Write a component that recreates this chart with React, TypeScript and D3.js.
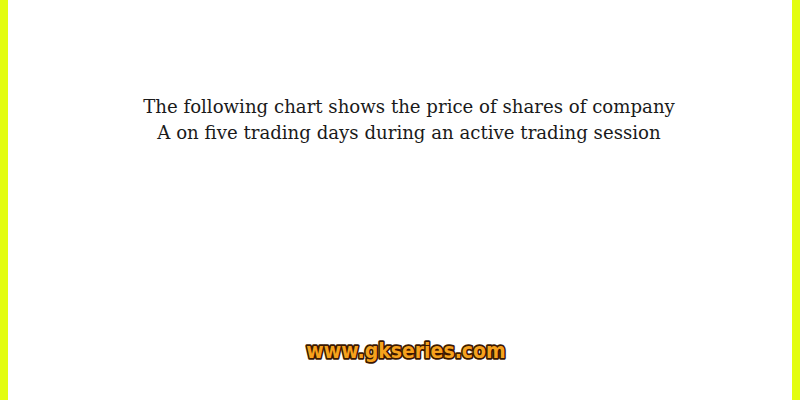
import React from 'react';
import * as d3 from 'd3';

// 제목 줄
const titleLines = [
  'The following chart shows the price of shares of company',
  'A on five trading days during an active trading session',
];
const siteLabel = ['www.gkseries.com'];

const WIDTH = 800;
const HEIGHT = 400;

export default function App() {
  // 줄 위치는 스케일로 계산
  const lineY = d3
    .scalePoint<number>()
    .domain(d3.range(titleLines.length))
    .range([113, 139]);

  return (
    <div style={{ position: 'fixed', left: 0, top: 0, width: WIDTH, height: HEIGHT }}>
      <svg width={WIDTH} height={HEIGHT} style={{ display: 'block', background: '#fff' }}>
        {/* 양쪽 노란 테두리 */}
        <rect x={0} y={0} width={8} height={HEIGHT} fill="#e3fd0f" />
        <rect x={WIDTH - 8} y={0} width={8} height={HEIGHT} fill="#e3fd0f" />

        {titleLines.map((line, i) => (
          <text
            key={line}
            x={409}
            y={lineY(i)}
            textAnchor="middle"
            fontFamily="'DejaVu Serif', serif"
            fontSize={18.15}
            fill="#1a1a1a">
            {line}
          </text>
        ))}

        {siteLabel.map((s) => (
          <g key={s} transform="translate(406,358) scale(0.9,1)">
            <text
              x={0}
              y={0}
              textAnchor="middle"
              fontFamily="'DejaVu Sans', sans-serif"
              fontWeight="bold"
              fontSize={21}
              fill="#f6a21d"
              stroke="#3b1800"
              strokeWidth={3.5}
              strokeLinejoin="round"
              style={{ paintOrder: 'stroke' }}>
              {s}
            </text>
          </g>
        ))}
      </svg>
    </div>
  );
}
